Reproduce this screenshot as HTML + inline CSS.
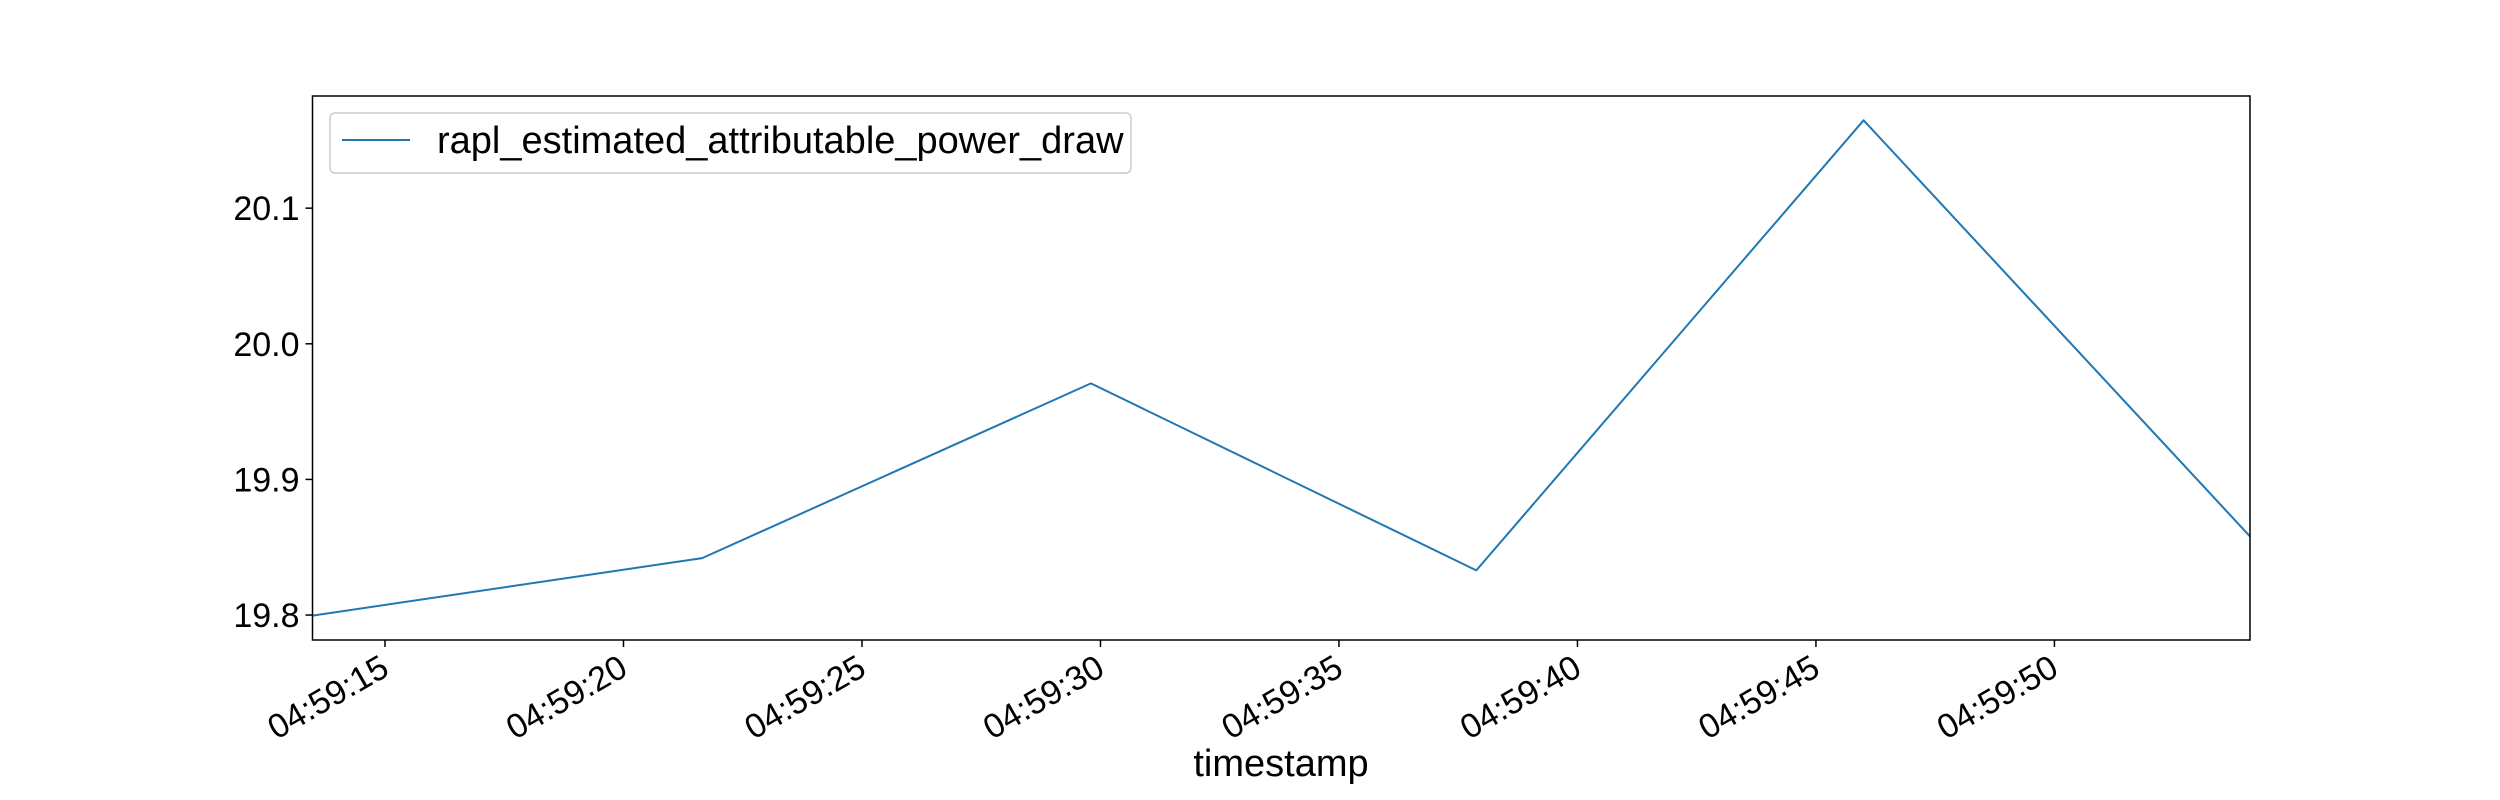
<!DOCTYPE html>
<html><head><meta charset="utf-8"><style>
html,body{margin:0;padding:0;background:#fff;}
svg{display:block;font-family:"Liberation Sans",sans-serif;}
</style></head><body>
<svg id="chart" width="2500" height="800" viewBox="0 0 2500 800" xmlns="http://www.w3.org/2000/svg">
<rect width="2500" height="800" fill="#fff"/>
<g id="plot"></g>
</svg>
<script>
const timesSec = [13.48, 21.65, 29.80, 37.88, 46.00, 54.10];
const powerValues = [19.7996, 19.842, 19.9708, 19.8329, 20.1648, 19.858];
const xTickSec = [15, 20, 25, 30, 35, 40, 45, 50];
const xTickLabels = ["04:59:15","04:59:20","04:59:25","04:59:30","04:59:35","04:59:40","04:59:45","04:59:50"];
const yTickValues = [19.8, 19.9, 20.0, 20.1];
const yTickLabels = ["19.8","19.9","20.0","20.1"];

const L=312.5,R=2250,T=96,B=640;
const xMin=13.48,xMax=54.10,yMin=19.7816,yMax=20.1827;
const xs=t=>L+(t-xMin)/(xMax-xMin)*(R-L);
const ys=v=>B-(v-yMin)/(yMax-yMin)*(B-T);
const NS="http://www.w3.org/2000/svg";
const g=document.getElementById('plot');
function mk(tag,attrs,parent){const e=document.createElementNS(NS,tag);for(const k in attrs)e.setAttribute(k,attrs[k]);(parent||g).appendChild(e);return e;}

const pts=timesSec.map((t,i)=>xs(t).toFixed(1)+','+ys(powerValues[i]).toFixed(1)).join(' ');
const line=mk('polyline',{points:pts,fill:'none',stroke:'#1f77b4','stroke-width':2,'stroke-linejoin':'round'});



const frame=mk('rect',{x:L,y:T,width:R-L,height:B-T,fill:'none',stroke:'#000','stroke-width':1.5});



yTickValues.forEach((v,i)=>{
  const y=ys(v);
  const tk=mk('line',{x1:L-7,x2:L,y1:y,y2:y,stroke:'#000','stroke-width':1.5});
  
  
  const tx=mk('text',{x:L-13,y:y+12,'text-anchor':'end','font-size':34,fill:'#000'});
  tx.textContent=yTickLabels[i];
  
  
});
xTickSec.forEach((s,i)=>{
  const x=xs(s);
  const tk=mk('line',{x1:x,x2:x,y1:B,y2:B+7,stroke:'#000','stroke-width':1.5});
  
  
  const tx=mk('text',{x:x+6,y:674,'text-anchor':'end','font-size':34,fill:'#000',transform:`rotate(-30 ${x+6} 674)`});
  tx.textContent=xTickLabels[i];
  
  
});
const xt=mk('text',{x:1281,y:776,'text-anchor':'middle','font-size':38,fill:'#000'});
xt.textContent='timestamp';



const lg=mk('g',{});


mk('rect',{x:330,y:113,width:801,height:60,rx:5,fill:'#fff',stroke:'#ccc','stroke-width':1.5},lg);
mk('line',{x1:342,x2:410,y1:140,y2:140,stroke:'#1f77b4','stroke-width':2},lg);
const lt=mk('text',{x:437,y:153,'font-size':38,fill:'#000'},lg);
lt.textContent='rapl_estimated_attributable_power_draw';


</script>
</body></html>
